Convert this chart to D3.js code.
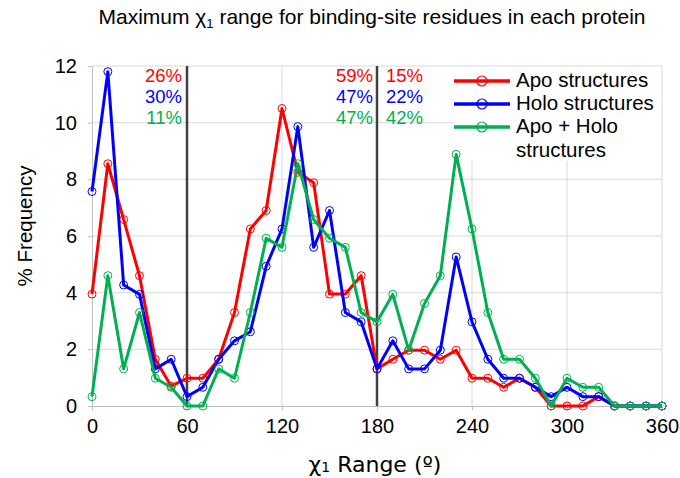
<!DOCTYPE html>
<html>
<head>
<meta charset="utf-8">
<script src="https://cdn.jsdelivr.net/npm/d3@7.9.0/dist/d3.min.js"></script>
<style>
  body { margin: 0; background: #fff; }
  svg { font-family: Arial, "Liberation Sans", sans-serif; }
</style>
</head>
<body>
<svg id="chart" width="680" height="478"></svg>
<script>
// chi1 range bins (degrees)
const angles = [0, 10, 20, 30, 40, 50, 60, 70, 80, 90, 100, 110, 120, 130, 140, 150, 160, 170, 180,
  190, 200, 210, 220, 230, 240, 250, 260, 270, 280, 290, 300, 310, 320, 330, 340, 350, 360];

// % frequency per bin
const apo = [3.95, 8.55, 6.58, 4.6, 1.65, 0.7, 0.98, 0.98, 1.65, 3.3, 6.25, 6.9, 10.5, 8.25, 7.88, 3.95, 3.95, 4.6, 1.31,
  1.65, 1.97, 1.97, 1.65, 1.97, 0.98, 0.98, 0.66, 0.98, 0.66, 0, 0, 0, 0.33, 0, 0, 0, 0];
const holo = [7.57, 11.8, 4.27, 3.94, 1.31, 1.65, 0.33, 0.66, 1.65, 2.3, 2.62, 4.93, 6.25, 9.86, 5.6, 6.9, 3.3, 2.97, 1.31,
  2.3, 1.31, 1.31, 1.97, 5.26, 2.97, 1.65, 0.98, 0.98, 0.66, 0.33, 0.66, 0.33, 0.33, 0, 0, 0, 0];
const both = [0.33, 4.6, 1.31, 3.3, 0.98, 0.66, 0, 0, 1.31, 0.98, 3.3, 5.92, 5.6, 8.55, 6.58, 5.92, 5.6, 3.3, 2.97,
  3.94, 1.97, 3.62, 4.6, 8.88, 6.25, 3.3, 1.65, 1.65, 0.98, 0, 0.98, 0.66, 0.66, 0, 0, 0, 0];

const xTicks = [0, 60, 120, 180, 240, 300, 360];
const yTicks = [0, 2, 4, 6, 8, 10, 12];
const dividers = [60, 180];

// legend labels, wrapped as in the original
const seriesNames = [['Apo structures'], ['Holo structures'], ['Apo + Holo', 'structures']];
const seriesColors = ['#ff0000', '#0000ff', '#00b050'];

// percentages above the plot, by region (left of 60, 60-180, right of 180)
const leftPct = ['26%', '30%', '11%'];
const midPct = ['59%', '47%', '47%'];
const rightPct = ['15%', '22%', '42%'];

const svg = d3.select('#chart');
const x = d3.scaleLinear().domain([0, 360]).range([92, 662]);
const y = d3.scaleLinear().domain([0, 12]).range([406, 66]);

// grid
svg.append('g')
  .selectAll('line')
  .data(yTicks.slice(1))
  .join('line')
  .attr('x1', x(0)).attr('x2', x(360))
  .attr('y1', d => y(d)).attr('y2', d => y(d))
  .attr('stroke', '#d9d9d9').attr('stroke-width', 1);
svg.append('g')
  .selectAll('line')
  .data(xTicks.slice(1))
  .join('line')
  .attr('x1', d => x(d)).attr('x2', d => x(d))
  .attr('y1', y(0)).attr('y2', y(12))
  .attr('stroke', '#d9d9d9').attr('stroke-width', 1);

// legend background sits under the data
svg.append('rect')
  .attr('x', 454).attr('y', 67).attr('width', 207).attr('height', 94)
  .attr('fill', '#fff');

// axes
const xAxis = svg.append('g')
  .attr('transform', `translate(0,${y(0)})`)
  .call(d3.axisBottom(x).tickValues(xTicks).tickSize(4).tickPadding(9));
const yAxis = svg.append('g')
  .attr('transform', `translate(${x(0)},0)`)
  .call(d3.axisLeft(y).tickValues(yTicks).tickSize(4).tickPadding(11));
[xAxis, yAxis].forEach(g => {
  g.select('.domain').attr('stroke', '#bfbfbf');
  g.selectAll('.tick line').attr('stroke', '#bfbfbf');
  g.selectAll('.tick text').attr('fill', '#000').style('font-size', '20px')
    .style('font-family', 'Arial, "Liberation Sans", sans-serif');
});

// divider lines
svg.append('g')
  .selectAll('line')
  .data(dividers)
  .join('line')
  .attr('x1', d => x(d)).attr('x2', d => x(d))
  .attr('y1', y(0)).attr('y2', y(12))
  .attr('stroke', '#404040').attr('stroke-width', 2.5);

// series
const allSeries = [apo, holo, both];
const line = d3.line().x((d, i) => x(angles[i])).y(d => y(d));
allSeries.forEach((vals, s) => {
  const g = svg.append('g');
  g.append('path')
    .datum(vals)
    .attr('d', line)
    .attr('fill', 'none')
    .attr('stroke', seriesColors[s])
    .attr('stroke-width', 3)
    .attr('stroke-linejoin', 'round');
  g.selectAll('circle')
    .data(vals)
    .join('circle')
    .attr('cx', (d, i) => x(angles[i]))
    .attr('cy', d => y(d))
    .attr('r', 4)
    .attr('fill', 'none')
    .attr('stroke', seriesColors[s])
    .attr('stroke-width', 1);
});

// percentage annotations
const pctRows = [82, 103, 124];
function pctText(list, px, anchor) {
  svg.append('g')
    .selectAll('text')
    .data(list)
    .join('text')
    .attr('x', px)
    .attr('y', (d, i) => pctRows[i])
    .attr('text-anchor', anchor)
    .attr('fill', (d, i) => seriesColors[i])
    .style('font-size', '18.5px')
    .text(d => d);
}
pctText(leftPct, 182, 'end');
pctText(midPct, 373, 'end');
pctText(rightPct, 386, 'start');

// legend
const legend = svg.append('g');
const legRows = [87, 110, 133];
seriesNames.forEach((name, i) => {
  const ly = legRows[i] - 6;
  legend.append('line')
    .attr('x1', 454).attr('x2', 510).attr('y1', ly).attr('y2', ly)
    .attr('stroke', seriesColors[i]).attr('stroke-width', 3.5);
  legend.append('circle')
    .attr('cx', 482).attr('cy', ly).attr('r', 5)
    .attr('fill', 'none').attr('stroke', seriesColors[i]).attr('stroke-width', 1.2);
  const t = legend.append('text')
    .attr('x', 516).attr('y', legRows[i])
    .style('font-size', '20.5px');
  name.forEach((part, k) => {
    t.append('tspan').attr('x', 516).attr('dy', k === 0 ? 0 : 24).text(part);
  });
});

// title
const title = svg.append('text')
  .attr('x', 372).attr('y', 24)
  .attr('text-anchor', 'middle')
  .style('font-size', '21px');
title.append('tspan').text('Maximum χ');
title.append('tspan').attr('dy', 4).style('font-size', '13px').text('1');
title.append('tspan').attr('dy', -4).text(' range for binding-site residues in each protein');

// axis titles
const xt = svg.append('text')
  .attr('x', 375).attr('y', 472)
  .attr('text-anchor', 'middle')
  .style('font-size', '22px')
  .style('font-family', 'Verdana, "DejaVu Sans", sans-serif');
xt.append('tspan').text('χ');
xt.append('tspan').style('font-size', '14px').text('1');
xt.append('tspan').text(' Range (º)');

svg.append('text')
  .attr('transform', 'translate(32,226) rotate(-90)')
  .attr('text-anchor', 'middle')
  .style('font-size', '20.5px')
  .text('% Frequency');
</script>
</body>
</html>
